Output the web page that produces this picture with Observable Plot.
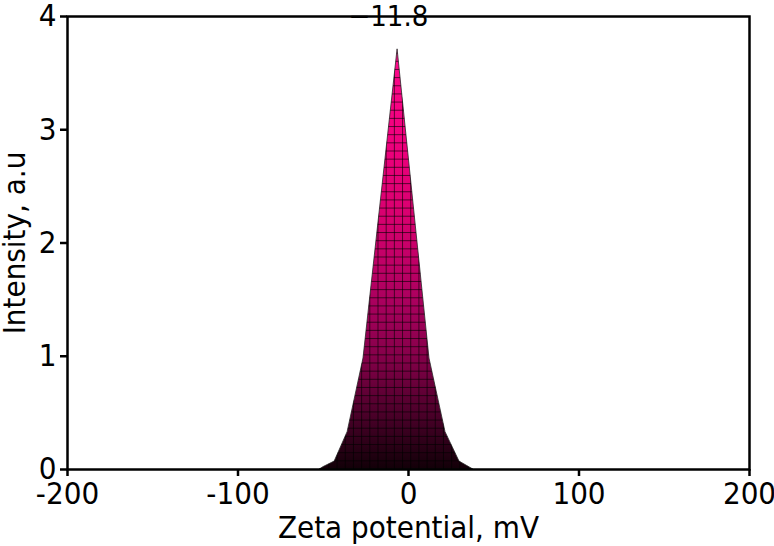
<!DOCTYPE html>
<html><head><meta charset="utf-8">
<script src="https://cdn.jsdelivr.net/npm/d3@7"></script>
<script src="https://cdn.jsdelivr.net/npm/@observablehq/plot@0.6"></script>
<style>body{margin:0;background:#fff}</style>
</head><body><div id="chart"></div>
<script>
// ---- data ----
const zeta = [-52, -50, -43.3, -35.7, -26.4, -6.4, 12.3, 21.7, 29.9, 35.7, 38];
const intensity = [0, 0.02, 0.07, 0.33, 0.98, 3.71, 0.98, 0.33, 0.07, 0.02, 0];
const xTicks = [-200, -100, 0, 100, 200];
const yTicks = [0, 1, 2, 3, 4];
const peakZeta = -11.8;
const peakLabel = "−11.8";
const xTitle = "Zeta potential, mV";
const yTitle = "Intensity, a.u";

const data = zeta.map((z, i) => ({z, v: intensity[i]}));
const peakV = d3.max(intensity);
const meshX = d3.range(-200, 200.01, 4.8);
const meshY = d3.range(0, 4, 0.072);

const FONT = "'DejaVu Sans Condensed', 'Liberation Sans Narrow', 'Liberation Sans', sans-serif";

const svg = Plot.plot({
  width: 774, height: 546,
  marginLeft: 67, marginRight: 25, marginTop: 16, marginBottom: 77,
  style: {fontFamily: FONT, fontSize: "31px", color: "#000", background: "#fff", overflow: "visible"},
  x: {domain: [-200, 200]},
  y: {domain: [0, 4]},
  marks: [
    Plot.areaY(data, {x: "z", y: "v", fill: "#000", stroke: "#2a2a2a", strokeWidth: 0.8}),
    Plot.ruleX(meshX, {stroke: "#000", strokeOpacity: 0.6, strokeWidth: 1}),
    Plot.ruleY(meshY, {stroke: "#000", strokeOpacity: 0.6, strokeWidth: 1}),
    Plot.frame({stroke: "#000", strokeWidth: 2.5}),
    Plot.axisX({ticks: xTicks, tickSize: 7, tickPadding: 5, tickFormat: d => String(d), label: null, strokeWidth: 2.5}),
    Plot.axisY({ticks: yTicks, tickSize: 7, tickPadding: 4, tickFormat: d => String(d), label: null, strokeWidth: 2.5}),
    Plot.text([yTitle], {text: d => d, frameAnchor: "left", dx: -52, rotate: -90, textAnchor: "middle", lineAnchor: "middle", fontSize: 31}),
    Plot.text([xTitle], {text: d => d, frameAnchor: "bottom", dy: 59, textAnchor: "middle", lineAnchor: "middle", fontSize: 31}),
    Plot.text([peakLabel], {text: d => d, x: () => peakZeta, y: () => peakV, dy: -33, lineAnchor: "middle", fontSize: 29})
  ]
});

// gradient fill + mesh clipped to the area
const ns = "http://www.w3.org/2000/svg";
const defs = document.createElementNS(ns, "defs");
const grad = document.createElementNS(ns, "linearGradient");
grad.setAttribute("id", "peakGrad");
grad.setAttribute("x1", 0); grad.setAttribute("y1", 1);
grad.setAttribute("x2", 0); grad.setAttribute("y2", 0);
[[0, "#120008"], [0.1, "#3e0022"], [0.27, "#86004a"], [0.4, "#aa005e"], [0.6, "#d8006f"], [0.8, "#f2007f"], [1, "#ff0a8c"]]
  .forEach(([o, c]) => {
    const s = document.createElementNS(ns, "stop");
    s.setAttribute("offset", o); s.setAttribute("stop-color", c);
    grad.appendChild(s);
  });
defs.appendChild(grad);
const areaPath = svg.querySelector('g[aria-label="area"] path');
const clip = document.createElementNS(ns, "clipPath");
clip.setAttribute("id", "peakClip");
const cp = document.createElementNS(ns, "path");
cp.setAttribute("d", areaPath.getAttribute("d"));
clip.appendChild(cp);
defs.appendChild(clip);
svg.insertBefore(defs, svg.firstChild);
areaPath.setAttribute("fill", "url(#peakGrad)");
areaPath.parentNode.setAttribute("fill", "url(#peakGrad)");
svg.querySelectorAll('g[aria-label="rule"]').forEach(g => {
  g.removeAttribute("transform");
  g.setAttribute("clip-path", "url(#peakClip)");
});

document.getElementById("chart").appendChild(svg);
</script>
</body></html>
